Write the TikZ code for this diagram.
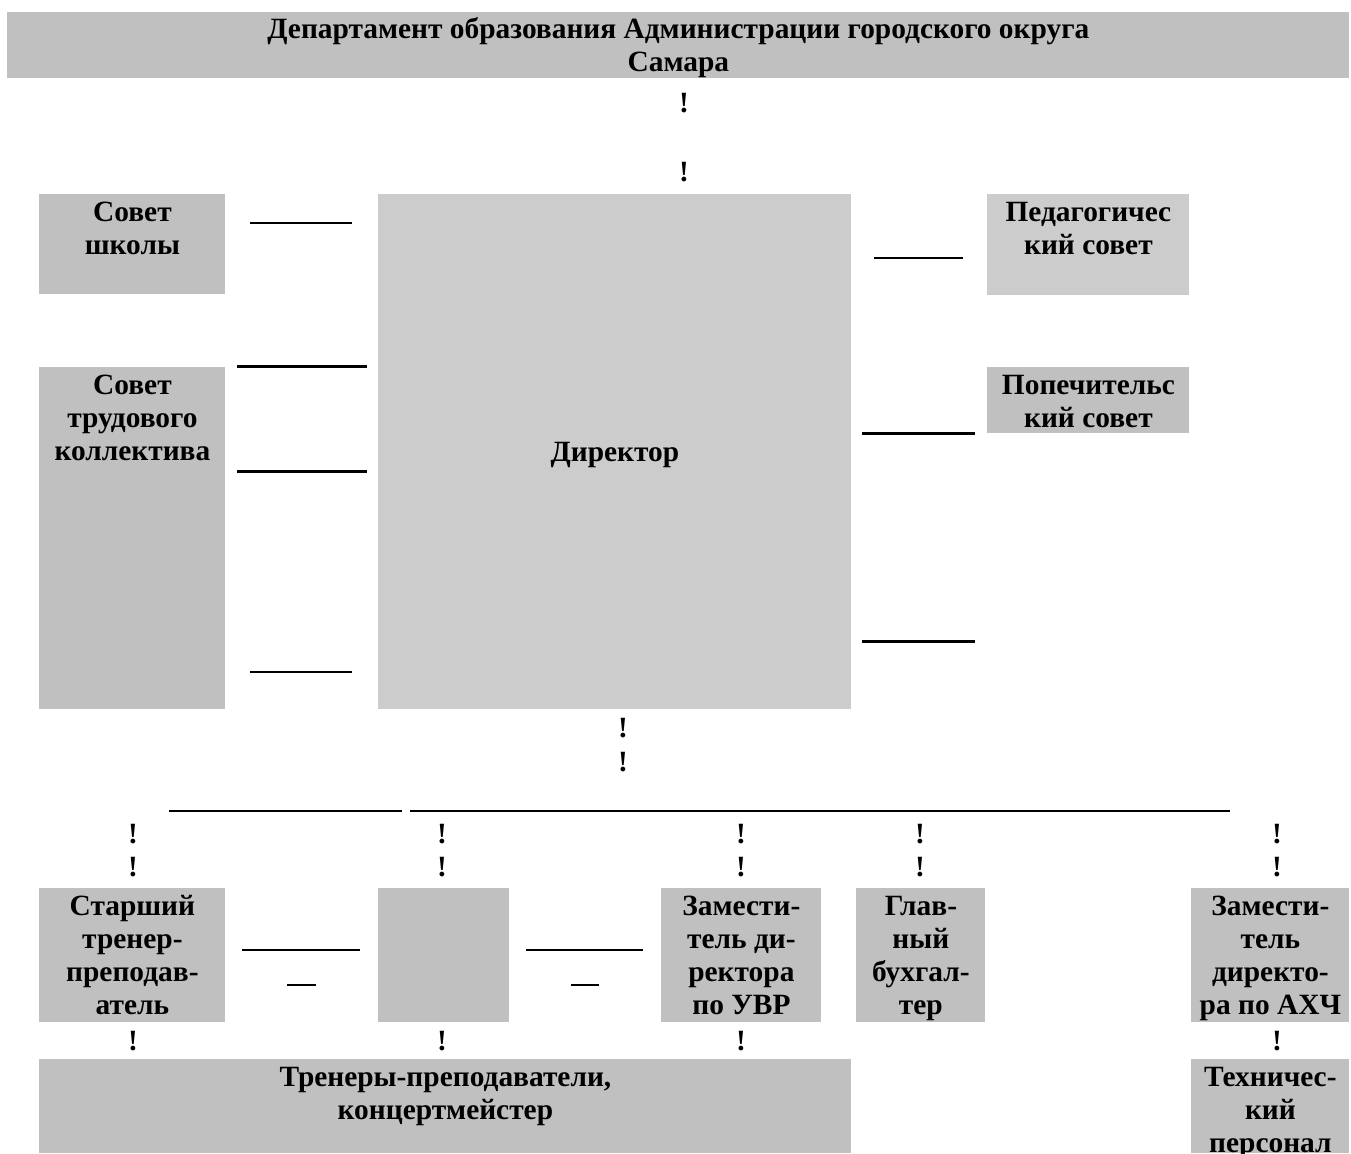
\documentclass[tikz,border=0pt]{standalone}
\usepackage{fontspec}
\setmainfont{Liberation Serif}
\definecolor{boxgray}{HTML}{C0C0C0}
\definecolor{litegray}{HTML}{CCCCCC}
\tikzset{
  orgbox/.style={fill=boxgray, anchor=north west, inner sep=0pt, align=center,
    font=\fontsize{14.7}{16.5}\selectfont\bfseries},
  excl/.style={inner sep=0pt, font=\fontsize{14.7}{16.5}\selectfont\bfseries},
  thinrule/.style={line width=0.7pt},
  thickrule/.style={line width=1.5pt},
}
\begin{document}
\begin{tikzpicture}[x=0.5pt, y=-0.5pt]
        \useasboundingbox (0,0) rectangle (1351,1153);
        % top
        \node[orgbox, minimum width=671pt, text height=29.5pt, text depth=3.5pt] (dept) at (7,12) {Департамент образования Администрации городского округа\\Самара};
        \node[excl] (d1) at (684,103) {!};
        \node[excl] (d2) at (684,172) {!};
        % middle
        \node[orgbox, minimum width=93pt, text height=30pt, text depth=20pt] (sovetsh) at (39,194) {Совет\\школы};
        \node[orgbox, minimum width=93pt, text height=46.5pt, text depth=124.5pt] (sovettk) at (39,367) {Совет\\трудового\\коллектива};
        \node[orgbox, fill=litegray, minimum width=236.5pt, text height=133.5pt, text depth=124pt] (director) at (378,194) {Директор};
        \node[orgbox, fill=litegray, minimum width=101pt, text height=30pt, text depth=20.5pt] (pedsovet) at (987,194) {Педагогичес\\кий совет};
        \node[orgbox, minimum width=101pt, text height=30pt, text depth=3pt] (popsovet) at (987,367) {Попечительс\\кий совет};
        \draw[thinrule] (250,223) -- (352,223);
        \draw[thickrule] (237,366) -- (367,366);
        \draw[thickrule] (237,471) -- (367,471);
        \draw[thinrule] (250,672) -- (352,672);
        \draw[thinrule] (874,258) -- (963,258);
        \draw[thickrule] (862,433) -- (975,433);
        \draw[thickrule] (862,641) -- (975,641);
        \node[excl] (d3) at (623,728) {!};
        \node[excl] (d4) at (623,762) {!};
        % bottom
        \draw[thinrule] (169,811) -- (402,811);
        \draw[thinrule] (410,811) -- (1230,811);
        \foreach \x/\n in {133/a, 442/b, 741/c, 920/d, 1277/e} {
            \node[excl] (u\n) at (\x,834) {!};
            \node[excl] (v\n) at (\x,867) {!};
        }
        \foreach \x/\n in {133/a, 442/b, 741/c, 1277/e}
            \node[excl] (w\n) at (\x,1041) {!};
        \node[orgbox, minimum width=93pt, text height=63pt, text depth=4pt] (starshiy) at (39,888) {Старший\\тренер-\\преподав-\\атель};
        \node[orgbox, minimum width=65.5pt, text height=13.5pt, text depth=53.5pt] (blank) at (378,888) {};
        \node[orgbox, minimum width=80pt, text height=63pt, text depth=4pt] (zamuvr) at (661,888) {Замести-\\тель ди-\\ректора\\по УВР};
        \node[orgbox, minimum width=64.5pt, text height=63pt, text depth=4pt] (glbuh) at (856,888) {Глав-\\ный\\бухгал-\\тер};
        \node[orgbox, minimum width=79pt, text height=63pt, text depth=4pt] (zamahch) at (1191,888) {Замести-\\тель\\директо-\\ра по АХЧ};
        \draw[thinrule] (242,950) -- (360,950);
        \draw[thinrule] (287,985) -- (316,985);
        \draw[thinrule] (526,950) -- (643,950);
        \draw[thinrule] (571,985) -- (599,985);
        \node[orgbox, minimum width=406pt, text height=30pt, text depth=17pt] (treners) at (39,1059) {Тренеры-преподаватели,\\концертмейстер};
        \node[orgbox, minimum width=79pt, text height=46.5pt, text depth=0.5pt] (techpers) at (1191,1059) {Техничес-\\кий\\персонал};
    \end{tikzpicture}
\end{document}
